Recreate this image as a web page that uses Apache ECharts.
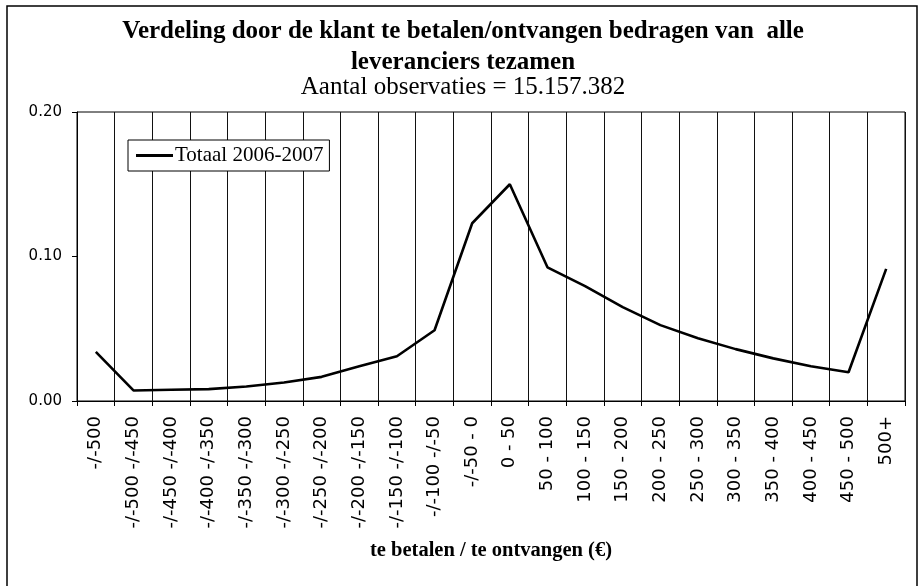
<!DOCTYPE html>
<html>
<head>
<meta charset="utf-8">
<script src="https://cdn.jsdelivr.net/npm/echarts@6/dist/echarts.min.js"></script>
<style>
  html, body { margin: 0; padding: 0; background: #fff; }
  #chart { width: 919px; height: 586px; }
</style>
</head>
<body>
<div id="chart"></div>
<script>
// categorieen (bedrag in euro)
var categories = [
  "-/-500", "-/-500 -/-450", "-/-450 -/-400", "-/-400 -/-350", "-/-350 -/-300",
  "-/-300 -/-250", "-/-250 -/-200", "-/-200 -/-150", "-/-150 -/-100", "-/-100 -/-50",
  "-/-50 - 0", "0 - 50", "50 - 100", "100 - 150", "150 - 200", "200 - 250",
  "250 - 300", "300 - 350", "350 - 400", "400 - 450", "450 - 500", "500+"
];
// aandeel per categorie, Totaal 2006-2007
var totaal = [
  0.034, 0.0073, 0.0078, 0.0082, 0.010, 0.0128, 0.0167, 0.024, 0.031, 0.049,
  0.123, 0.150, 0.0925, 0.0795, 0.065, 0.0525, 0.0434, 0.0359, 0.0295, 0.024,
  0.0199, 0.0914
];
var yMin = 0, yMax = 0.2, yStep = 0.1;

var serif = "'Liberation Serif', 'Times New Roman', serif";
var sans = "'DejaVu Sans', sans-serif";

var chart = echarts.init(document.getElementById("chart"));
var option = {
  animation: false,
  backgroundColor: "#fff",
  title: [
    {
      text: "Verdeling door de klant te betalen/ontvangen bedragen van  alle\nleveranciers tezamen",
      left: 458, textAlign: "center", top: 11,
      textStyle: { fontFamily: serif, fontSize: 25, fontWeight: "bold", color: "#000", lineHeight: 31 }
    },
    {
      text: "Aantal observaties = 15.157.382",
      left: 458, textAlign: "center", top: 70,
      textStyle: { fontFamily: serif, fontSize: 25, fontWeight: "normal", color: "#000" }
    }
  ],
  legend: {
    data: ["Totaal 2006-2007"],
    left: 128, top: 140,
    orient: "vertical",
    backgroundColor: "#fff",
    borderColor: "#000", borderWidth: 1, borderRadius: 0,
    padding: [5, 6, 5, 8],
    icon: "rect",
    itemWidth: 37, itemHeight: 3,
    textStyle: { fontFamily: serif, fontSize: 21, color: "#000", padding: [0, 0, 0, -3] }
  },
  grid: {
    left: 77, right: 14, top: 112, bottom: 185,
    show: true, borderColor: "#000", borderWidth: 1, backgroundColor: "transparent"
  },
  xAxis: {
    type: "category",
    data: categories,
    boundaryGap: true,
    name: "te betalen / te ontvangen (€)",
    nameLocation: "middle",
    nameGap: 139,
    nameTextStyle: { fontFamily: serif, fontSize: 20.5, fontWeight: "bold", color: "#000" },
    axisLine: { lineStyle: { color: "#000", width: 1 } },
    axisTick: { show: true, length: 5, interval: 0, lineStyle: { color: "#000" } },
    axisLabel: { interval: 0, rotate: 90, margin: 15, fontFamily: sans, fontSize: 18, color: "#000" },
    splitLine: { show: true, interval: 0, lineStyle: { color: "#111", width: 1 } }
  },
  yAxis: {
    type: "value",
    min: yMin, max: yMax, interval: yStep,
    axisLine: { show: true, lineStyle: { color: "#000" } },
    axisTick: { show: true, length: 5, lineStyle: { color: "#000" } },
    axisLabel: {
      margin: 15, fontFamily: sans, fontSize: 15, color: "#000",
      formatter: function (v) { return v.toFixed(2); }
    },
    splitLine: { show: false }
  },
  series: [
    {
      name: "Totaal 2006-2007",
      type: "line",
      data: totaal,
      symbol: "none",
      lineStyle: { color: "#000", width: 2.6 },
      itemStyle: { color: "#000" }
    }
  ],
  graphic: [
    {
      type: "rect",
      shape: { x: 7, y: 6, width: 910, height: 584 },
      style: { fill: "none", stroke: "#000", lineWidth: 1.5 },
      silent: true
    }
  ]
};
chart.setOption(option);
</script>
</body>
</html>
